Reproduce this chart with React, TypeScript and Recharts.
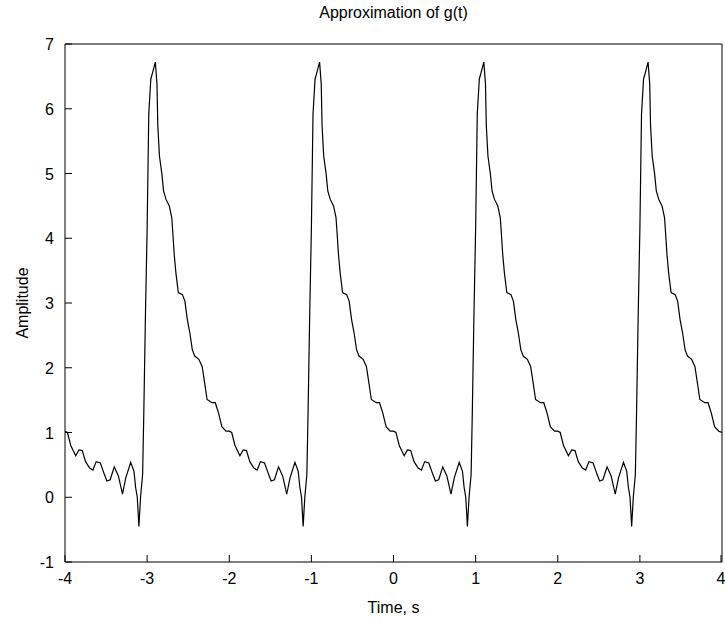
import { LineChart, Line, XAxis, YAxis, Label } from 'recharts'

// one period of the signal (same shape each period)
const amplitude = [
  1.02, 1.0, 0.8, 0.64, 0.73, 0.72, 0.55, 0.45, 0.42, 0.55, 0.53, 0.35, 0.25, 0.27, 0.47,
  0.33, 0.05, 0.3, 0.54, 0.4, 0.15, 0.0, -0.45, 0.0, 0.35, 1.33, 2.85, 4.14, 5.92, 6.46,
  6.55, 6.72, 6.38, 5.74, 5.27, 4.99, 4.73, 4.6, 4.5, 4.32, 4.14, 3.75, 3.47, 3.16, 3.13,
  3.03, 2.74, 2.54, 2.28, 2.18, 2.13, 2.02, 1.77, 1.51, 1.46, 1.46, 1.3, 1.09, 1.02,
]

const time1 = [
  -4, -3.97, -3.93, -3.87, -3.83, -3.79, -3.75, -3.7, -3.66, -3.62, -3.57, -3.52, -3.49, -3.45, -3.4,
  -3.35, -3.3, -3.26, -3.2, -3.16, -3.14, -3.12, -3.1, -3.08, -3.055, -3.04, -3.02, -3.0, -2.98, -2.955,
  -2.935, -2.9, -2.88, -2.87, -2.85, -2.82, -2.8, -2.77, -2.73, -2.7, -2.69, -2.67, -2.65, -2.62, -2.57,
  -2.54, -2.51, -2.48, -2.45, -2.42, -2.37, -2.33, -2.3, -2.27, -2.21, -2.17, -2.13, -2.09, -2.04,
]
const time2 = [
  -2, -1.97, -1.93, -1.87, -1.83, -1.79, -1.75, -1.7, -1.66, -1.62, -1.57, -1.52, -1.49, -1.45, -1.4,
  -1.35, -1.3, -1.26, -1.2, -1.16, -1.14, -1.12, -1.1, -1.08, -1.055, -1.04, -1.02, -1.0, -0.98, -0.955,
  -0.935, -0.9, -0.88, -0.87, -0.85, -0.82, -0.8, -0.77, -0.73, -0.7, -0.69, -0.67, -0.65, -0.62, -0.57,
  -0.54, -0.51, -0.48, -0.45, -0.42, -0.37, -0.33, -0.3, -0.27, -0.21, -0.17, -0.13, -0.09, -0.04,
]
const time3 = [
  0, 0.03, 0.07, 0.13, 0.17, 0.21, 0.25, 0.3, 0.34, 0.38, 0.43, 0.48, 0.51, 0.55, 0.6,
  0.65, 0.7, 0.74, 0.8, 0.84, 0.86, 0.88, 0.9, 0.92, 0.945, 0.96, 0.98, 1.0, 1.02, 1.045,
  1.065, 1.1, 1.12, 1.13, 1.15, 1.18, 1.2, 1.23, 1.27, 1.3, 1.31, 1.33, 1.35, 1.38, 1.43,
  1.46, 1.49, 1.52, 1.55, 1.58, 1.63, 1.67, 1.7, 1.73, 1.79, 1.83, 1.87, 1.91, 1.96,
]
const time4 = [
  2, 2.03, 2.07, 2.13, 2.17, 2.21, 2.25, 2.3, 2.34, 2.38, 2.43, 2.48, 2.51, 2.55, 2.6,
  2.65, 2.7, 2.74, 2.8, 2.84, 2.86, 2.88, 2.9, 2.92, 2.945, 2.96, 2.98, 3.0, 3.02, 3.045,
  3.065, 3.1, 3.12, 3.13, 3.15, 3.18, 3.2, 3.23, 3.27, 3.3, 3.31, 3.33, 3.35, 3.38, 3.43,
  3.46, 3.49, 3.52, 3.55, 3.58, 3.63, 3.67, 3.7, 3.73, 3.79, 3.83, 3.87, 3.91, 3.96,
]
const endPoint = { t: 4, v: 1.0 }

const xTicks = [-4, -3, -2, -1, 0, 1, 2, 3, 4]
const yTicks = [-1, 0, 1, 2, 3, 4, 5, 6, 7]

const data = [time1, time2, time3, time4]
  .flatMap(ts => ts.map((t, i) => ({ t, v: amplitude[i] })))
  .concat([endPoint])

const font = { fontFamily: 'Liberation Sans, Arial, sans-serif', fontSize: 16, fill: '#000' }
const GAP = 10 // label distance from axis
const TICK = 7 // inward tick length

// matlab style: tick mark inside the box, label outside
const BottomTick = ({ x, y, payload }: any) => (
  <g>
    <line x1={x} x2={x} y1={y - GAP} y2={y - GAP - TICK} stroke="#000" />
    <text x={x} y={y} dy={12} textAnchor="middle" {...font}>{payload.value}</text>
  </g>
)

const LeftTick = ({ x, y, payload }: any) => (
  <g>
    <line x1={x + GAP} x2={x + GAP + TICK} y1={y} y2={y} stroke="#000" />
    <text x={x - 1} y={y} dy={6} textAnchor="end" {...font}>{payload.value}</text>
  </g>
)

export default function App() {
  return (
    <div style={{ position: 'absolute', left: 0, top: 0, background: '#fff' }}>
      <LineChart width={725} height={622} data={data} margin={{ top: 44, right: 3, bottom: 59, left: 64 }}>
        <XAxis
          xAxisId="b" dataKey="t" type="number" domain={[-4, 4]} ticks={xTicks} allowDataOverflow
          height={1} tickLine={false} tickSize={0} tickMargin={GAP}
          axisLine={{ stroke: '#000' }} tick={<BottomTick />}
        >
          <Label
            content={({ viewBox }: any) => (
              <text x={viewBox.x + viewBox.width / 2} y={viewBox.y + 51} textAnchor="middle" {...font}>
                Time, s
              </text>
            )}
          />
        </XAxis>
        <YAxis
          yAxisId="l" type="number" domain={[-1, 7]} ticks={yTicks} allowDataOverflow
          width={1} tickLine={false} tickSize={0} tickMargin={GAP}
          axisLine={{ stroke: '#000' }} tick={<LeftTick />}
        >
          <Label
            content={({ viewBox }: any) => {
              const cx = 28
              const cy = viewBox.y + viewBox.height / 2
              return (
                <text x={cx} y={cy} textAnchor="middle" transform={`rotate(-90 ${cx} ${cy})`} {...font}>
                  Amplitude
                </text>
              )
            }}
          />
        </YAxis>
        <XAxis
          xAxisId="top" orientation="top" type="number" domain={[-4, 4]} ticks={xTicks} allowDataOverflow
          height={1} mirror tick={false} tickSize={TICK} axisLine={{ stroke: '#000' }} tickLine={{ stroke: '#000' }}
        >
          <Label
            content={({ viewBox }: any) => (
              <text x={viewBox.x + viewBox.width / 2} y={viewBox.y - 26} textAnchor="middle" {...font}>
                Approximation of g(t)
              </text>
            )}
          />
        </XAxis>
        <YAxis
          yAxisId="r" orientation="right" type="number" domain={[-1, 7]} ticks={yTicks} allowDataOverflow
          width={1} mirror tick={false} tickSize={TICK} axisLine={{ stroke: '#000' }} tickLine={{ stroke: '#000' }}
        />
        <Line
          xAxisId="b" yAxisId="l" dataKey="v" type="linear" stroke="#000" strokeWidth={1.2}
          dot={false} isAnimationActive={false}
        />
      </LineChart>
    </div>
  )
}
